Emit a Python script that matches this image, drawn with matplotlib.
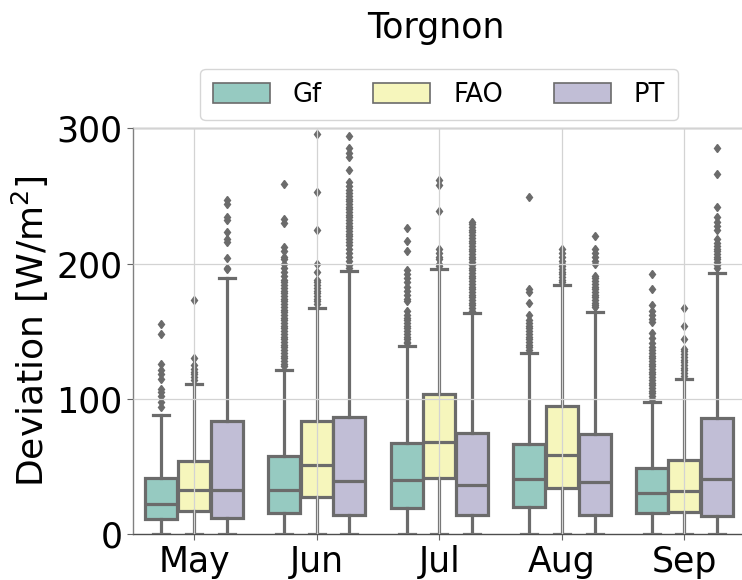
import matplotlib
matplotlib.use("Agg")
import matplotlib.pyplot as plt
from matplotlib.patches import Patch
import seaborn as sns

months = ["May", "Jun", "Jul", "Aug", "Sep"]
models = ["Gf", "FAO", "PT"]

# box statistics per model (rows) and month (columns)
q1 = [[11.0, 15.3, 19.4, 20.2, 16.0],
      [17.2, 27.5, 41.8, 34.2, 16.5],
      [12.3, 14.0, 14.5, 14.0, 13.5]]
median = [[22.6, 32.5, 40.4, 41.0, 30.5],
          [33.0, 51.0, 68.1, 58.3, 32.0],
          [32.5, 39.0, 36.2, 38.6, 40.6]]
q3 = [[41.8, 57.8, 67.7, 66.4, 49.0],
      [54.0, 83.4, 103.8, 94.5, 55.1],
      [83.4, 86.6, 75.0, 74.3, 85.8]]
whis_hi = [[87.8, 121.5, 138.7, 134.0, 97.6],
           [111.2, 167.3, 195.8, 184.3, 114.4],
           [189.0, 194.8, 163.3, 164.0, 192.9]]
whis_lo = [[0, 0, 0, 0, 0],
           [0, 0, 0, 0, 0],
           [0, 0, 0, 0, 0]]

fliers_gf = [
    [155, 148, 126, 121, 118, 115, 107, 105, 102, 98, 94],
    [259, 233, 230, 212, 209, 205, 203, 200, 197, 194, 191, 188, 186, 184,
     182, 180, 178, 176, 174, 172, 170, 168, 166, 164, 162, 160, 158, 156,
     154, 152, 150, 148, 146, 144, 142, 140, 138, 136, 134, 132, 130, 128,
     126, 124],
    [226, 217, 209, 195, 192, 189, 186, 183, 180, 177, 174, 172, 165, 162,
     160, 158, 156, 154, 152, 150, 148, 146, 144, 142, 141],
    [249, 181, 179, 171, 162, 158, 156, 154, 152, 150, 148, 146, 144, 142,
     140, 138, 136],
    [192, 181, 169, 165, 162, 159, 157, 149, 145, 141, 138, 136, 134, 132,
     130, 128, 126, 124, 122, 120, 118, 116, 114, 112, 110, 108, 106, 104,
     102, 100],
]
fliers_fao = [
    [173, 130, 125, 122, 120, 118, 116, 114],
    [296, 253, 225, 200, 194, 188, 186, 184, 182, 180, 178, 176, 174, 172,
     170],
    [262, 258, 239, 211, 208, 205, 203, 200, 198],
    [211, 208, 205, 202, 200, 198, 196, 194, 192, 190, 188, 186],
    [167, 154, 144, 137, 135, 133, 131, 129, 127, 125, 123, 121, 119, 117],
]
fliers_pt = [
    [247, 244, 234, 232, 223, 218, 216, 204, 197, 196],
    [294, 285, 282, 279, 269, 260, 257, 254, 252, 250, 248, 246, 244, 242,
     240, 238, 236, 234, 232, 230, 228, 226, 224, 222, 220, 218, 216, 214,
     211, 208, 205, 202, 199, 197],
    [231, 229, 227, 225, 223, 221, 219, 217, 215, 213, 211, 209, 207, 205,
     203, 201, 199, 197, 195, 193, 191, 189, 187, 185, 183, 181, 179, 177,
     175, 173, 171, 169, 167, 165],
    [220, 211, 208, 205, 202, 200, 191, 189, 187, 185, 183, 181, 179, 177,
     175, 173, 171, 169, 168],
    [285, 266, 242, 234, 231, 228, 225, 218, 215, 213, 211, 209, 207, 205,
     203, 201, 199, 197],
]
fliers = [fliers_gf, fliers_fao, fliers_pt]

palette = [sns.desaturate(c, 0.75) for c in sns.color_palette("Set3", 3)]
line_gray = "#6b6b6b"
lw = 2.3

fig = plt.figure(figsize=(7.42, 5.8), dpi=100)
ax = fig.add_axes([0.179, 0.079, 0.826, 0.700])

step = 0.8 / len(models)
box_w = step * 0.98
for j, model in enumerate(models):
    stats = []
    for i in range(len(months)):
        stats.append({
            "med": median[j][i], "q1": q1[j][i], "q3": q3[j][i],
            "whislo": whis_lo[j][i], "whishi": whis_hi[j][i],
            "fliers": fliers[j][i],
        })
    pos = [i + (j - 1) * step for i in range(len(months))]
    ax.bxp(stats, positions=pos, widths=box_w, capwidths=box_w / 2,
           patch_artist=True, manage_ticks=False,
           boxprops=dict(facecolor=palette[j], edgecolor=line_gray, linewidth=lw),
           medianprops=dict(color=line_gray, linewidth=lw),
           whiskerprops=dict(color=line_gray, linewidth=lw),
           capprops=dict(color=line_gray, linewidth=lw),
           flierprops=dict(marker="d", markersize=4.5, markerfacecolor=line_gray,
                           markeredgecolor=line_gray))

ax.set_xlim(-0.5, len(months) - 0.5)
ax.set_ylim(0, 300)
ax.set_xticks(range(len(months)))
ax.set_xticklabels(months)
ax.set_yticks([0, 100, 200, 300])
ax.tick_params(labelsize=25, length=4, color="0.4")
ax.set_ylabel("Deviation [W/m$^2$]", fontsize=26)

ax.grid(True, color="#d3d3d3", linewidth=0.9)
ax.set_axisbelow(False)
for s in ax.spines.values():
    s.set_color("0.5")
    s.set_linewidth(1.0)
ax.spines["bottom"].set_color("0.3")

handles = [Patch(facecolor=palette[j], edgecolor=line_gray, linewidth=1.2)
           for j in range(len(models))]
ax.legend(handles, models, loc="lower center", bbox_to_anchor=(0.5, 1.0),
          borderaxespad=0.3, ncol=3, fontsize=18.5, handlelength=2.2,
          handleheight=0.8, handletextpad=0.9, columnspacing=2.0,
          borderpad=0.5, frameon=True)

fig.text(0.587, 0.952, "Torgnon", fontsize=25, ha="center", va="center")

fig.savefig("out.png", dpi=100)
